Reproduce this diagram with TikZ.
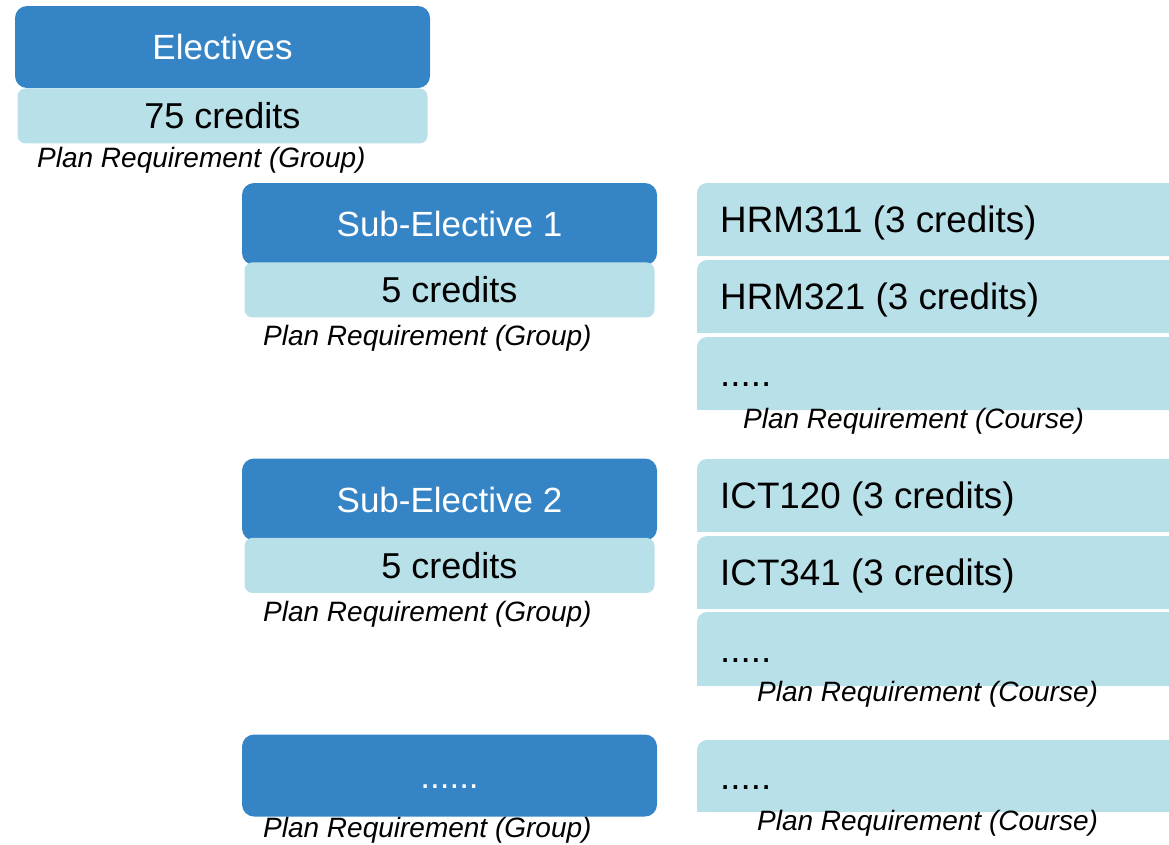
\documentclass[tikz,border=0pt]{standalone}
\usepackage{fontspec}
\setmainfont{Liberation Sans}
\usepackage{tikz}
\usetikzlibrary{positioning}
\definecolor{groupblue}{HTML}{3585C6}
\definecolor{creditcyan}{HTML}{B8E0E8}
\tikzset{
    grouphead/.style={fill=groupblue, rounded corners=12pt, text=white, inner sep=0pt,
        minimum width=415pt, minimum height=82pt, text height=25pt, text depth=0pt,
        font=\fontsize{35}{42}\selectfont},
    groupcredit/.style={fill=creditcyan, rounded corners=8pt, inner sep=0pt,
        minimum width=410pt, minimum height=55pt, text height=26pt, text depth=0pt,
        font=\fontsize{36}{43}\selectfont},
    reqlabel/.style={anchor=west, inner sep=0pt, text height=19pt, text depth=0pt,
        font=\fontsize{28}{33}\selectfont\itshape},
    coursetext/.style={anchor=west, inner sep=0pt, text height=26pt, text depth=0pt,
        font=\fontsize{36.8}{44}\selectfont},
    coursefill/.style={fill=creditcyan}
}

\begin{document}
\begin{tikzpicture}[x=1pt, y=-1pt]
        \useasboundingbox (0,0) rectangle (1169,844);
        \clip (0,0) rectangle (1169,844);

        % course rows (run off the right edge)
        \foreach \ytop/\ybot in {183/256, 260/333, 337/410, 459/532, 536/609, 612/686, 740/812}{
            \fill[coursefill, rounded corners=10pt] (697,\ytop) rectangle (1200,\ybot);
            \fill[coursefill] (697,\ytop+15) rectangle (1200,\ybot);
        }

        % groups
        \node[grouphead] (elec) at (222.5,47) {Electives};
        \node[groupcredit, below=0pt of elec] (eleccr) {75 credits};
        \node[reqlabel] (elecreq) at (37,157.5) {Plan Requirement (Group)};

        \node[grouphead] (subA) at (449.5,224) {Sub-Elective 1};
        \node[groupcredit, below=-3pt of subA] (subAcr) {5 credits};
        \node[reqlabel] (subAreq) at (263,336) {Plan Requirement (Group)};

        \node[grouphead] (subB) at (449.5,499.5) {Sub-Elective 2};
        \node[groupcredit, below=-3pt of subB] (subBcr) {5 credits};
        \node[reqlabel] (subBreq) at (263,612) {Plan Requirement (Group)};

        \node[grouphead] (subC) at (449.5,775.5) {......};
        \node[reqlabel] (subCreq) at (263,828) {Plan Requirement (Group)};

        % courses
        \node[coursetext] (hrmA) at (720,219.5) {HRM311 (3 credits)};
        \node[coursetext] (hrmB) at (720,296.5) {HRM321 (3 credits)};
        \node[coursetext] (hrmC) at (720,373.5) {.....};
        \node[reqlabel] (hrmreq) at (743,419) {Plan Requirement (Course)};

        \node[coursetext] (ictA) at (720,495.5) {ICT120 (3 credits)};
        \node[coursetext] (ictB) at (720,572.5) {ICT341 (3 credits)};
        \node[coursetext] (ictC) at (720,649) {.....};
        \node[reqlabel] (ictreq) at (757,692) {Plan Requirement (Course)};

        \node[coursetext] (moreC) at (720,776) {.....};
        \node[reqlabel] (morereq) at (757,821) {Plan Requirement (Course)};
    \end{tikzpicture}
\end{document}
